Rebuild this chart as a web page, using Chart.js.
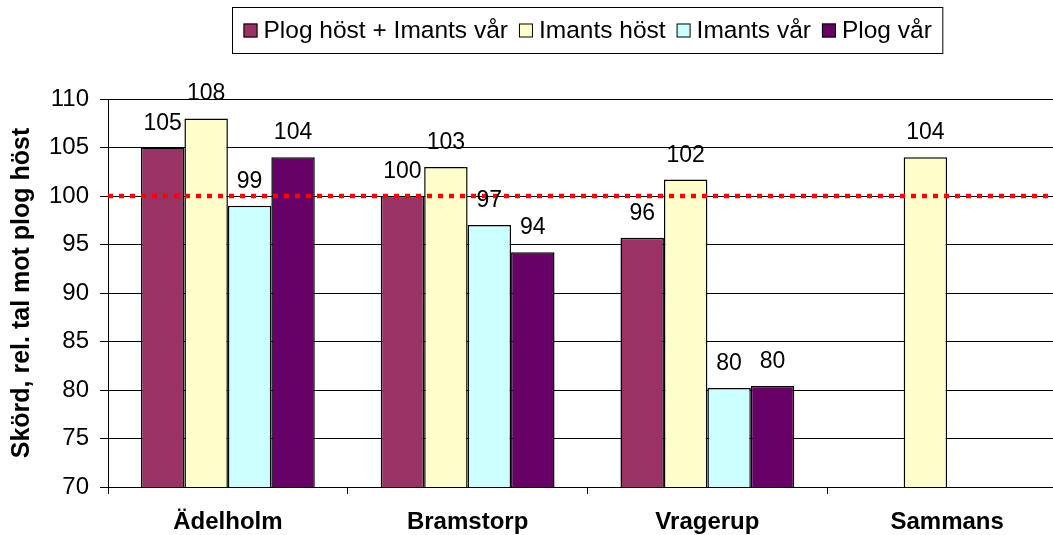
<!DOCTYPE html>
<html>
<head>
<meta charset="utf-8">
<script src="https://cdn.jsdelivr.net/npm/chart.js@4"></script>
<style>
  html, body { margin: 0; padding: 0; background: #fff; overflow: hidden; }
  #wrap { width: 1080px; height: 535px; }
</style>
</head>
<body>
<div id="wrap"><canvas id="skord" width="1080" height="535"></canvas></div>
<script>
// Skörd relativt plog höst (=100)
const platser = ['Ädelholm', 'Bramstorp', 'Vragerup', 'Sammans'];
const plogHostImantsVar = [105, 100, 95.7, null];
const imantsHost = [108, 103, 101.7, 104];
const imantsVar = [99, 97, 80.2, null];
const plogVar = [104, 94.2, 80.4, null];
const referens = 100;
const yMin = 70, yMax = 110, yStep = 5;

const FONT = "'Liberation Sans', Arial, sans-serif";

// streckad röd linje vid 100 + värdeetiketter ovanför staplarna
const refOchEtiketter = {
  id: 'refOchEtiketter',
  afterDatasetsDraw(chart) {
    const ctx = chart.ctx;
    const area = chart.chartArea;
    const y = chart.scales.y.getPixelForValue(referens);
    ctx.save();
    ctx.strokeStyle = '#ff0000';
    ctx.lineWidth = 4.5;
    ctx.setLineDash([5, 6]);
    ctx.beginPath();
    ctx.moveTo(area.left, y);
    ctx.lineTo(area.right, y);
    ctx.stroke();
    ctx.setLineDash([]);

    ctx.fillStyle = '#000';
    ctx.font = '23px ' + FONT;
    ctx.textAlign = 'center';
    ctx.textBaseline = 'alphabetic';
    chart.data.datasets.forEach((ds, i) => {
      const meta = chart.getDatasetMeta(i);
      meta.data.forEach((bar, j) => {
        const v = ds.data[j];
        if (v == null) return;
        ctx.fillText(Math.round(v), bar.x, bar.y - 18);
      });
    });
    ctx.restore();
  }
};

// legend i ram, centrerad över diagramytan
const legendRam = {
  id: 'legendRam',
  afterDraw(chart) {
    const ctx = chart.ctx;
    const area = chart.chartArea;
    ctx.save();
    ctx.font = '24.5px ' + FONT;
    const items = chart.data.datasets.map(ds => ({
      text: ds.label, color: ds.backgroundColor, w: ctx.measureText(ds.label).width
    }));
    const box = 14, gap = 6, between = 11, pad = 11;
    let total = 0;
    items.forEach((it, i) => { total += box + gap + it.w + (i < items.length - 1 ? between : 0); });
    const w = total + pad * 2;
    const cx = (area.left + area.right) / 2;
    const left = Math.round(cx - w / 2) + 0.5;
    const top = 7.5, h = 46;
    ctx.strokeStyle = '#000';
    ctx.lineWidth = 1;
    ctx.strokeRect(left, top, w, h);

    let x = left + pad;
    const cy = top + h / 2;
    ctx.textBaseline = 'middle';
    ctx.textAlign = 'left';
    items.forEach(it => {
      ctx.fillStyle = it.color;
      ctx.fillRect(x, cy - box / 2, box, box);
      ctx.strokeRect(x + 0.5, cy - box / 2 + 0.5, box - 1, box - 1);
      ctx.fillStyle = '#000';
      ctx.fillText(it.text, x + box + gap, cy + 1);
      x += box + gap + it.w + between;
    });
    ctx.restore();
  }
};

function stapel(label, data, color) {
  return {
    label: label,
    data: data,
    backgroundColor: color,
    borderColor: '#000',
    borderWidth: 1.5,
    categoryPercentage: 0.725,
    barPercentage: 1.0
  };
}

new Chart(document.getElementById('skord'), {
  type: 'bar',
  data: {
    labels: platser,
    datasets: [
      stapel('Plog höst + Imants vår', plogHostImantsVar, '#993366'),
      stapel('Imants höst', imantsHost, '#ffffcc'),
      stapel('Imants vår', imantsVar, '#ccffff'),
      stapel('Plog vår', plogVar, '#660066')
    ]
  },
  options: {
    responsive: false,
    animation: false,
    layout: { padding: { top: 99, right: 13, left: 0, bottom: 0 } },
    plugins: {
      legend: { display: false },
      tooltip: { enabled: false }
    },
    scales: {
      x: {
        offset: true,
        grid: { display: true, drawOnChartArea: false, drawTicks: true, tickLength: 7, color: '#000', offset: true },
        border: { color: '#000', width: 1 },
        ticks: { color: '#000', font: { family: FONT, size: 24, weight: 'bold' }, padding: 14, maxRotation: 0 },
        afterFit(scale) { scale.height = 48; }
      },
      y: {
        min: yMin,
        max: yMax,
        ticks: { stepSize: yStep, color: '#000', font: { family: FONT, size: 24 }, padding: 11 },
        grid: { color: '#000', lineWidth: 1, tickLength: 8 },
        border: { color: '#000', width: 1 },
        title: {
          display: true,
          text: 'Skörd, rel. tal mot plog höst',
          color: '#000',
          font: { family: FONT, size: 25, weight: 'bold' },
          padding: { top: 7, bottom: 0 }
        },
        afterFit(scale) { scale.width = 108; }
      }
    }
  },
  plugins: [refOchEtiketter, legendRam]
});
</script>
</body>
</html>
